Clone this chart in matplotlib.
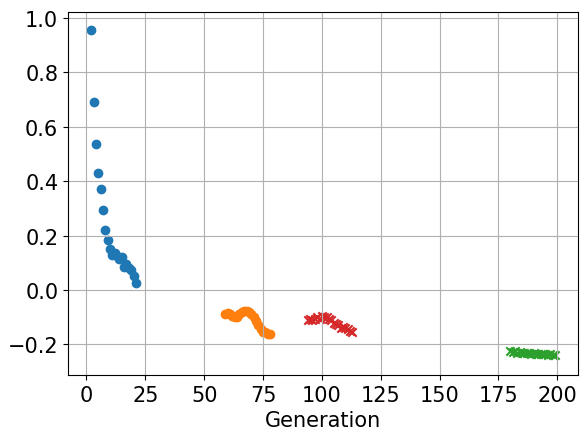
import matplotlib
matplotlib.use("Agg")
import matplotlib.pyplot as plt
from matplotlib.ticker import MultipleLocator

# Fitness per generation for each search phase
gen_a = list(range(2, 22))
val_a = [0.955, 0.69, 0.535, 0.43, 0.37, 0.295, 0.22, 0.185, 0.15, 0.13,
         0.135, 0.125, 0.115, 0.12, 0.085, 0.095, 0.08, 0.075, 0.05, 0.025]

gen_b = list(range(59, 79))
val_b = [-0.088, -0.085, -0.087, -0.095, -0.1, -0.098, -0.088, -0.08, -0.077, -0.078,
         -0.082, -0.09, -0.1, -0.115, -0.13, -0.145, -0.155, -0.155, -0.16, -0.16]

gen_c = list(range(94, 114))
val_c = [-0.11, -0.105, -0.11, -0.105, -0.1, -0.105, -0.095, -0.1, -0.1, -0.105,
         -0.11, -0.12, -0.125, -0.13, -0.14, -0.135, -0.14, -0.145, -0.15, -0.155]

gen_d = list(range(180, 200))
val_d = [-0.225, -0.228, -0.226, -0.23, -0.229, -0.231, -0.232, -0.231, -0.233, -0.234,
         -0.233, -0.235, -0.236, -0.235, -0.237, -0.236, -0.238, -0.237, -0.239, -0.24]

plt.rcParams["font.size"] = 15

fig, ax = plt.subplots(figsize=(5.81, 4.35), dpi=100)
fig.subplots_adjust(left=0.117, right=0.995, top=0.970, bottom=0.136)

ax.scatter(gen_a, val_a, color="tab:blue", marker="o")
ax.scatter(gen_b, val_b, color="tab:orange", marker="o")
ax.scatter(gen_c, val_c, color="tab:red", marker="x")
ax.scatter(gen_d, val_d, color="tab:green", marker="x")

ax.set_xlabel("Generation")
ax.set_ylim(-0.312, 1.022)
ax.xaxis.set_major_locator(MultipleLocator(25))
ax.grid(True)

fig.savefig("out.png", dpi=100)
